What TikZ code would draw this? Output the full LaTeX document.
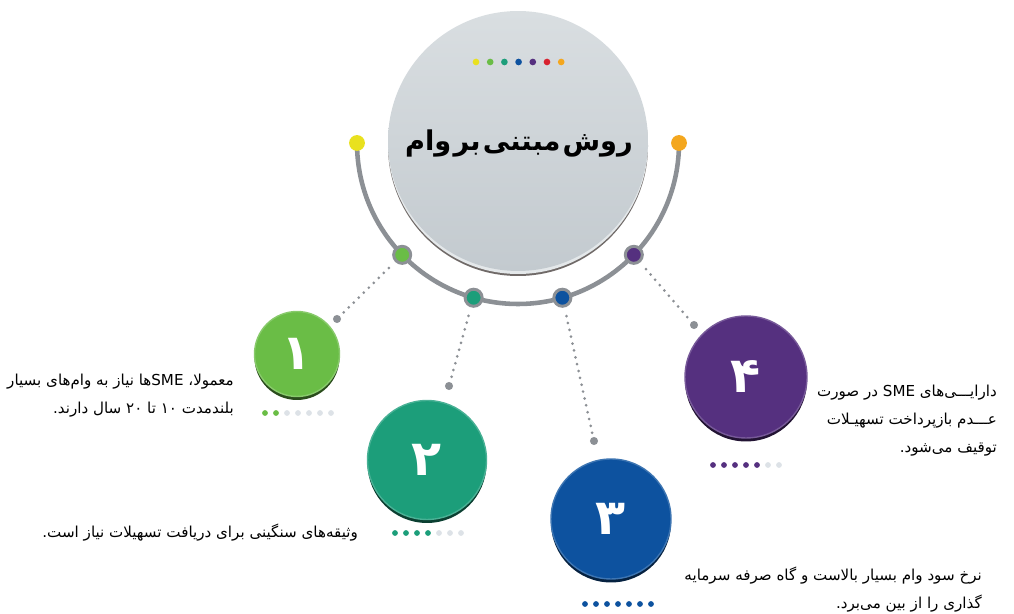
\documentclass[tikz,border=0pt]{standalone}
\usepackage{fontspec}
\newfontfamily\arabicfont[Script=Arabic]{DejaVu Sans}
\TeXXeTstate=1
\definecolor{ringgray}{HTML}{8C9095}
\definecolor{lightdot}{HTML}{DDE2E7}
\definecolor{yel}{HTML}{E9E11F}
\definecolor{org}{HTML}{F4A71E}
\definecolor{grn}{HTML}{6ABD46}
\definecolor{teal}{HTML}{1C9E7A}
\definecolor{blu}{HTML}{0D529F}
\definecolor{pur}{HTML}{55307F}
\definecolor{red}{HTML}{D8232F}
\definecolor{titletop}{HTML}{D9DEE1}
\definecolor{titlebot}{HTML}{C3CACF}
\definecolor{titleshade}{HTML}{706A68}
\begin{document}
\begin{tikzpicture}[x=0.02cm,y=0.02cm,
    ringdot/.style={circle,fill=#1,draw=ringgray,line width=1.7pt,minimum size=9.7pt,inner sep=0pt},
    enddot/.style={circle,fill=#1,minimum size=9pt,inner sep=0pt},
    graydot/.style={circle,fill=ringgray,minimum size=4.6pt,inner sep=0pt},
    rowdot/.style={circle,fill=#1,minimum size=3.3pt,inner sep=0pt},
    numc/.style={circle,fill=#1,draw=#1!80!white,line width=0.8pt,inner sep=0pt,text=white,
        font=\arabicfont\bfseries\fontsize{28}{28}\selectfont,
        preaction={fill=#1!40!black,transform canvas={yshift=-0.07cm}}},
    dotline/.style={ringgray,line width=1.7pt,line cap=round,dash pattern=on 0pt off 4pt,shorten <=5pt},
    txt/.style={anchor=east,align=right,font=\arabicfont\fontsize{8.6}{16}\selectfont}]
    \useasboundingbox (0,0) rectangle (1014,614);
    % title circle
    \fill[titleshade] (518,468) circle (130);
    \fill[titletop!70!white] (518,470) circle (130);
    \node[circle,minimum size=5.2cm,inner sep=0pt,top color=titletop,bottom color=titlebot] (title) at (518,473) {};
    \node[font=\arabicfont\bfseries\fontsize{15.5}{15.5}\selectfont] (tt) at (519,471) {\spaceskip=1.2pt\beginR روش مبتنی بر وام\endR};
    \foreach \c [count=\i from 0] in {yel,grn,teal,blu,pur,red,org}
        \node[rowdot=\c,minimum size=3.8pt] (t\i) at (476+14.2*\i,552) {};
    % ring
    \coordinate (rc) at (518,471);
    \draw[ringgray,line width=2.6pt] ([shift={(180:161)}]rc) arc[start angle=180,end angle=360,radius=161];
    \node[enddot=yel] (ry) at ([shift={(180:161)}]rc) {};
    \node[enddot=org] (ro) at ([shift={(0:161)}]rc) {};
    \node[ringdot=grn] (d1) at ([shift={(224:161)}]rc) {};
    \node[ringdot=teal] (d2) at ([shift={(254:161)}]rc) {};
    \node[ringdot=blu] (d3) at ([shift={(286:161)}]rc) {};
    \node[ringdot=pur] (d4) at ([shift={(316:161)}]rc) {};
    % connectors
    \node[graydot] (e1) at (337,295) {};
    \node[graydot] (e2) at (449,228) {};
    \node[graydot] (e3) at (594,173) {};
    \node[graydot] (e4) at (694,289) {};
    \draw[dotline] (d1) -- (e1);
    \draw[dotline] (d2) -- (e2);
    \draw[dotline] (d3) -- (e3);
    \draw[dotline] (d4) -- (e4);
    % numbered circles
    \node[numc=grn,minimum size=1.7cm] (c1) at (297,260) {۱};
    \node[numc=teal,minimum size=2.38cm] (c2) at (427,154) {۲};
    \node[numc=blu,minimum size=2.4cm] (c3) at (611,95) {۳};
    \node[numc=pur,minimum size=2.44cm] (c4) at (746,237) {۴};
    % progress dots
    \foreach \i in {0,1} \node[rowdot=grn] (pa\i) at (265+11*\i,201) {};
    \foreach \i in {2,...,6} \node[rowdot=lightdot] (pa\i) at (265+11*\i,201) {};
    \foreach \i in {0,...,3} \node[rowdot=teal] (pb\i) at (395+11*\i,81) {};
    \foreach \i in {4,...,6} \node[rowdot=lightdot] (pb\i) at (395+11*\i,81) {};
    \foreach \i in {0,...,6} \node[rowdot=blu] (pc\i) at (585+11*\i,10) {};
    \foreach \i in {0,...,4} \node[rowdot=pur] (pd\i) at (713+11*\i,149) {};
    \foreach \i in {5,6} \node[rowdot=lightdot] (pd\i) at (713+11*\i,149) {};
    % texts
    \node[txt] (x1) at (240,218) {\beginR معمولا، \beginL SME\endL{}ها نیاز به وام‌های بسیار\endR\\
        \beginR بلندمدت \beginL ۱۰\endL{} تا \beginL ۲۰\endL{} سال دارند.\endR};
    \node[txt] (x2) at (364,81) {\beginR وثیقه‌های سنگینی برای دریافت تسهیلات نیاز است.\endR};
    \node[txt] (x3) at (988,24) {\beginR نرخ سود وام بسیار بالاست و گاه صرفه سرمایه\endR\\
        \beginR گذاری را از بین می‌برد.\endR};
    \node[txt] (x4) at (1003,193) {\beginR دارایـــی‌های \beginL SME\endL{} در صورت\endR\\
        \beginR عـــدم بازپرداخت تسهیـلات\endR\\
        \beginR توقیف می‌شود.\endR};
\end{tikzpicture}
\end{document}
